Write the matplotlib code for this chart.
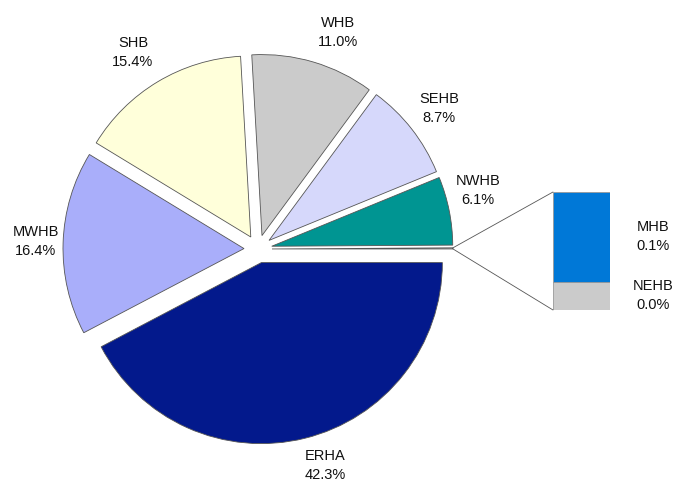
import numpy as np
import matplotlib
matplotlib.use("Agg")
import matplotlib.pyplot as plt
from matplotlib.patches import ConnectionPatch

plt.rcParams['font.family'] = ['Liberation Sans', 'DejaVu Sans']

# pie data (percent), clockwise from 3 o'clock
names = ["ERHA", "MWHB", "SHB", "WHB", "SEHB", "NWHB"]
shares = [42.3, 16.4, 15.4, 11.0, 8.7, 6.1]
colors = ["#03198C", "#A9AEFA", "#FFFFDA", "#CBCBCB", "#D6D8FB", "#009592"]

# split of the small remainder, shown in the bar
bar_names = ["NEHB", "MHB"]
bar_shares = [0.024, 0.076]
bar_colors = ["#CBCBCB", "#0078D7"]

other = sum(bar_shares)

# small label nudges (pixels, x right / y down), like the hand-placed original
label_nudge = [(12, -6), (7, 0), (-7, 0), (15, 3), (0, 1), (-5, -13)]

fig = plt.figure(figsize=(6.75, 4.84), dpi=100)
ax = fig.add_axes([0, 0, 1, 1])

vals = shares + [other]
# explode is in data units here (axes are in pixels)
wedges, texts = ax.pie(vals, colors=colors + ["#CBCBCB"], startangle=0,
                       counterclock=False, radius=181, center=(258, 235),
                       explode=[14] * len(vals), normalize=True,
                       labels=[f"{n}\n{v:.1f}%" for n, v in zip(names, shares)] + [""],
                       labeldistance=1.19,
                       wedgeprops=dict(edgecolor="#555555", linewidth=0.6),
                       textprops=dict(fontsize=10.5, color="#111111"))
for t, (dx, dy) in zip(texts, label_nudge):
    x, y = t.get_position()
    t.set_position((x + dx, y - dy))
for t in texts:
    t.set_ha("center")
    t.set_va("center")
    t.set_linespacing(1.45)
    t.set_multialignment("center")

ax.set_xlim(0, 675)
ax.set_ylim(0, 484)
ax.set_aspect("equal")
ax.axis("off")

# bar of the remainder
bx = fig.add_axes([553 / 675, 174 / 484, 57 / 675, 118 / 484])
bottom = 0
for n, v, c in zip(bar_names, bar_shares, bar_colors):
    bx.bar(0, v, width=1, bottom=bottom, color=c, edgecolor="#999999", linewidth=0.6)
    bx.text(1.25, bottom + v / 2, f"{n}\n{v:.1f}%", ha="center", va="center",
            fontsize=10.5, color="#111111", linespacing=1.45)
    bottom += v
bx.set_xlim(-0.5, 0.5)
bx.set_ylim(0, bottom)
bx.axis("off")

# connector lines from the small wedge to the bar
w = wedges[-1]
cx, cy = w.center
r = w.r
for ang, yb in [(w.theta2, bottom), (w.theta1, 0)]:
    p = (cx + r * np.cos(np.deg2rad(ang)), cy + r * np.sin(np.deg2rad(ang)))
    con = ConnectionPatch(xyA=p, coordsA=ax.transData, xyB=(-0.5, yb),
                          coordsB=bx.transData, color="#555555", linewidth=0.6)
    fig.add_artist(con)

fig.savefig("out.png", dpi=100)
